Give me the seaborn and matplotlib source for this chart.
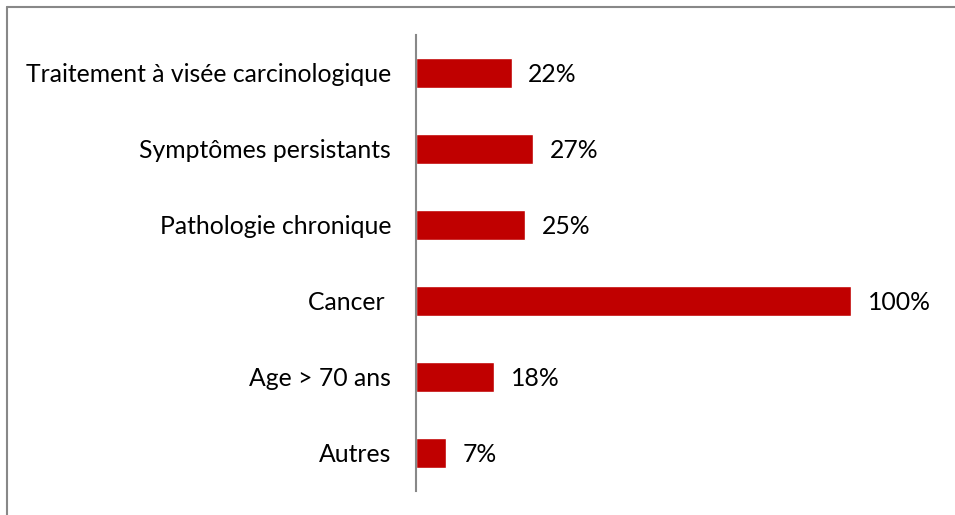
import pandas as pd
import matplotlib.pyplot as plt
import seaborn as sns
from matplotlib.lines import Line2D

categories = ["Traitement à visée carcinologique", "Symptômes persistants",
              "Pathologie chronique", "Cancer ", "Age > 70 ans", "Autres"]
values = [22, 27, 25, 100, 18, 7]

df = pd.DataFrame({"cat": categories, "val": values})

sns.set_theme(style="white")
plt.rcParams['font.family'] = ['Lato', 'DejaVu Sans']

fig = plt.figure(figsize=(9.55, 5.15), dpi=100)
ax = fig.add_axes([416 / 955, 1 - 491 / 515, 435 / 955, 456 / 515])

sns.barplot(data=df, x="val", y="cat", order=categories, color="#C00000",
            width=0.4, saturation=1, ax=ax)

ax.set_xlim(0, 100)
ax.set_ylim(5.5, -0.5)
ax.set_xlabel("")
ax.set_ylabel("")
ax.set_xticks([])
for s in ["top", "right", "bottom"]:
    ax.spines[s].set_visible(False)
ax.spines["left"].set_color("#888888")
ax.spines["left"].set_linewidth(1.5)
ax.tick_params(axis="y", length=0, pad=18, labelsize=17.8, labelcolor="black")
for t in ax.get_yticklabels():
    t.set_va("center_baseline")

lbls = ax.bar_label(ax.containers[0], labels=[f"{v}%" for v in values],
                    padding=12, fontsize=17.8, color="black", clip_on=False)
for t in lbls:
    t.set_va("center_baseline")

# cadre du graphique
fig.add_artist(Line2D([7 / 955, 1], [1 - 7 / 515] * 2, color="#888888", lw=1.5))
fig.add_artist(Line2D([7 / 955] * 2, [0, 1 - 7 / 515], color="#888888", lw=1.5))

fig.savefig("out.png", dpi=100)
